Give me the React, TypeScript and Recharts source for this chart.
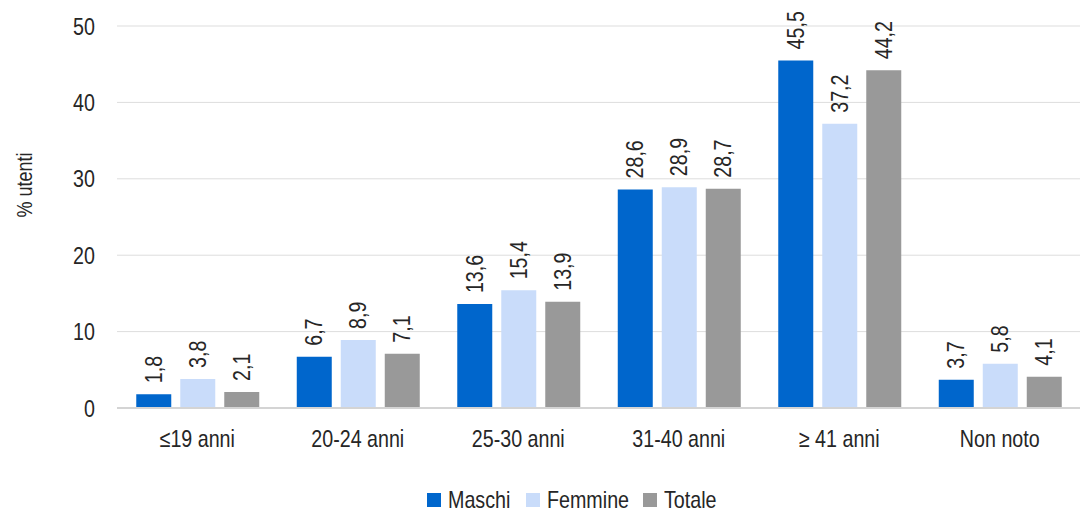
import { BarChart, Bar, XAxis, YAxis, CartesianGrid, Legend, LabelList } from 'recharts';

const categories = ['≤19 anni', '20-24 anni', '25-30 anni', '31-40 anni', '≥ 41 anni', 'Non noto'];
const maschi = [1.8, 6.7, 13.6, 28.6, 45.5, 3.7];
const femmine = [3.8, 8.9, 15.4, 28.9, 37.2, 5.8];
const totale = [2.1, 7.1, 13.9, 28.7, 44.2, 4.1];
const yTicks = [0, 10, 20, 30, 40, 50];

// no Arial Narrow here: squeeze Liberation Sans horizontally instead
const FONT = '"Liberation Sans", Arial, sans-serif';
const SQUEEZE = 0.82;
const INK = '#262626';

const series = [
  { key: 'maschi', name: 'Maschi', color: '#0066CC', labelW: 58 },
  { key: 'femmine', name: 'Femmine', color: '#C9DCFA', labelW: 76 },
  { key: 'totale', name: 'Totale', color: '#999999', labelW: 50 },
];

const data = categories.map((c, i) => ({
  cat: c,
  maschi: maschi[i],
  femmine: femmine[i],
  totale: totale[i],
}));

const fmt = (v: number) => v.toFixed(1).replace('.', ',');

function XTick(props: any) {
  const { x, y, payload } = props;
  return (
    <g transform={`translate(${x},${y}) scale(${SQUEEZE},1)`}>
      <text x={0} y={0} dy="0.71em" textAnchor="middle" fontFamily={FONT} fontSize={24} fill={INK}>
        {payload.value}
      </text>
    </g>
  );
}

function YTick(props: any) {
  const { x, y, payload } = props;
  return (
    <g transform={`translate(${x - 2},${y}) scale(${SQUEEZE},1)`}>
      <text x={0} y={0} dy="0.36em" textAnchor="end" fontFamily={FONT} fontSize={24} fill={INK}>
        {payload.value}
      </text>
    </g>
  );
}

function ValueLabel(props: any) {
  const { x, y, width, value } = props;
  const cx = x + width / 2;
  const cy = y - 11;
  return (
    <g transform={`translate(${cx},${cy}) rotate(-90) scale(${SQUEEZE},1)`}>
      <text x={0} y={0} textAnchor="start" dominantBaseline="central" fontFamily={FONT} fontSize={24} fill={INK}>
        {fmt(value)}
      </text>
    </g>
  );
}

function YLabel(props: any) {
  const { viewBox } = props;
  const cx = 24;
  const cy = viewBox.y + viewBox.height / 2 - 32;
  return (
    <g transform={`translate(${cx},${cy}) rotate(-90) scale(${SQUEEZE},1)`}>
      <text x={0} y={0} textAnchor="middle" dominantBaseline="central" fontFamily={FONT} fontSize={22} fill={INK}>
        % utenti
      </text>
    </g>
  );
}

function LegendContent() {
  return (
    <div
      style={{
        display: 'flex',
        justifyContent: 'center',
        paddingLeft: 60,
        fontFamily: FONT,
        fontSize: 24,
        color: INK,
        lineHeight: '24px',
      }}
    >
      {series.map((s, i) => (
        <div key={s.key} style={{ display: 'flex', alignItems: 'center', marginLeft: i ? 20 : 0 }}>
          <span style={{ display: 'inline-block', width: 14, height: 14, background: s.color, marginRight: 7 }} />
          <span style={{ display: 'inline-block', width: s.labelW, whiteSpace: 'nowrap' }}>
            <span style={{ display: 'inline-block', transform: `scaleX(${SQUEEZE})`, transformOrigin: 'left center' }}>
              {s.name}
            </span>
          </span>
        </div>
      ))}
    </div>
  );
}

export default function App() {
  return (
    <div style={{ position: 'absolute', left: 0, top: 0, background: '#fff' }}>
      <BarChart
        width={1091}
        height={512}
        data={data}
        margin={{ top: 26, right: 11, left: 0, bottom: 0 }}
        barCategoryGap="12%"
        barGap={9}
      >
        <CartesianGrid stroke="#DDDDDD" vertical={false} />
        <XAxis
          dataKey="cat"
          height={80}
          tickLine={false}
          axisLine={{ stroke: '#D4D4D4', strokeWidth: 2 }}
          tick={<XTick />}
          tickMargin={16}
          interval={0}
        />
        <YAxis
          width={117}
          domain={[0, 50]}
          ticks={yTicks}
          axisLine={false}
          tickLine={false}
          tickMargin={14}
          tick={<YTick />}
          label={<YLabel />}
        />
        <Legend verticalAlign="bottom" height={24} content={<LegendContent />} />
        {series.map((s) => (
          <Bar key={s.key} dataKey={s.key} name={s.name} fill={s.color} isAnimationActive={false}>
            <LabelList dataKey={s.key} content={<ValueLabel />} />
          </Bar>
        ))}
      </BarChart>
    </div>
  );
}
